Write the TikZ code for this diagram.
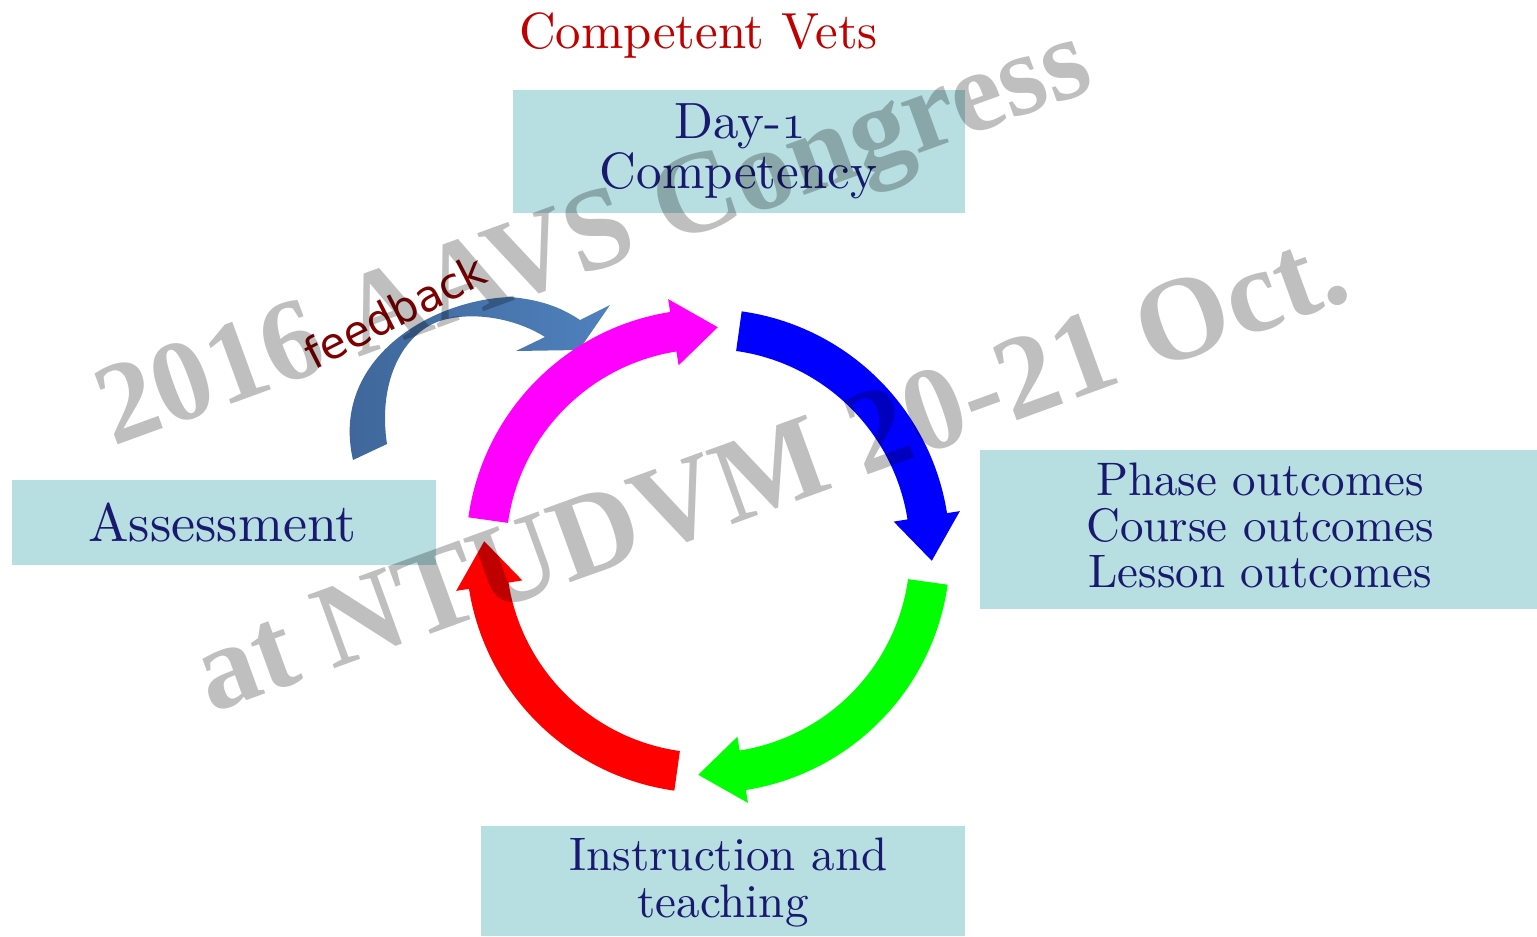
\documentclass[tikz,border=0pt]{standalone}
\usepackage{fontspec}
\newfontfamily\fbfont{DejaVu Sans}
\newfontfamily\wmfont{Liberation Serif}
\newfontfamily\boxfont{lmroman10-regular.otf}
\newcommand{\osone}{{\usefont{OML}{cmm}{m}{it}1}}
\definecolor{boxteal}{HTML}{B7DEE1}
\definecolor{txtnavy}{HTML}{191970}
\definecolor{titlered}{HTML}{C00000}
\definecolor{fbred}{HTML}{7F0000}
\definecolor{fbdark}{HTML}{3E6598}
\definecolor{fblight}{HTML}{4F81BD}
\definecolor{pmagenta}{RGB}{255,0,255}
\definecolor{pblue}{RGB}{0,0,255}
\definecolor{pgreen}{RGB}{0,255,0}
\definecolor{pred}{RGB}{255,0,0}
\tikzset{
  tealbox/.style={fill=boxteal, draw=none, inner sep=0pt, outer sep=0pt},
  navytext/.style={text=txtnavy, inner sep=0pt, anchor=base},
  wmtext/.style={text=black, text opacity=0.25, inner sep=0pt, anchor=base west, rotate=20},
}
\begin{document}
\begin{tikzpicture}[x=0.5pt,y=-0.5pt]
\useasboundingbox (0,0) rectangle (1537,937);
\fill[white] (0,0) rectangle (1537,937);

% boxes
\node[tealbox, minimum width=226pt, minimum height=61.5pt] (daybox) at (739,151.5) {};
\node[tealbox, minimum width=212pt, minimum height=42.5pt] (assessbox) at (224,522.5) {};
\node[tealbox, minimum width=278.5pt, minimum height=79.5pt] (phasebox) at (1258.5,529.5) {};
\node[tealbox, minimum width=242pt, minimum height=55pt] (instrbox) at (723,881) {};

% title
\node[text=titlered, inner sep=0pt, anchor=base, font=\boxfont\fontsize{25.4}{25.4}\selectfont] (title) at (698.5,48) {Competent Vets};

% box texts
\begin{scope}[font=\boxfont\fontsize{25.5}{25.5}\selectfont]
\node[navytext] (dayA) at (740,138) {Day-\osone};
\node[navytext] (dayB) at (738.5,188) {Competency};
\end{scope}
\node[navytext, font=\boxfont\fontsize{27}{27}\selectfont] (assessT) at (222.5,541) {Assessment};
\begin{scope}[font=\boxfont\fontsize{23.5}{23.5}\selectfont]
\node[navytext] (phaseA) at (1260,495) {Phase outcomes};
\node[navytext] (phaseB) at (1260,541) {Course outcomes};
\node[navytext] (phaseC) at (1260,587) {Lesson outcomes};
\node[navytext] (instrA) at (728.5,870) {Instruction and};
\node[navytext] (instrB) at (723,917) {teaching};
\end{scope}

% feedback arrow
\shade[left color=fbdark, right color=fblight]
  (353,460) .. controls (330,360) and (430,300) .. (510,297)
  .. controls (545,300) and (565,310) .. (580,320)
  -- (610,305) -- (579,350) -- (516,351) -- (545,337)
  .. controls (515,318) and (470,310) .. (437,322)
  .. controls (400,337) and (378,385) .. (387,444) -- cycle;
\node[text=fbred, inner sep=0pt, anchor=base, rotate=27, font=\fbfont\fontsize{21.5}{21.5}\selectfont] (fb) at (402,326) {feedback};

% cycle arrows
\begin{scope}[shift={(708,551)}]
\foreach \col/\ang in {pblue/82, pgreen/-8, pred/-98, pmagenta/172}{
  \pgfmathsetmacro\aS{-\ang}
  \pgfmathsetmacro\aB{-\ang+73}
  \pgfmathsetmacro\aT{-\ang+84.5}
  \fill[\col] (\aS:242) arc[start angle=\aS, end angle=\aB, radius=242]
    -- (\aB:255) -- (\aT:224) -- (\aB:188) -- (\aB:202)
    arc[start angle=\aB, end angle=\aS, radius=202] -- cycle;
}
\end{scope}

% watermark
\node[wmtext, font=\wmfont\bfseries\fontsize{58}{58}\selectfont] (wm1) at (113,447) {2016 AAVS Congress};
\node[wmtext, font=\wmfont\bfseries\fontsize{59.5}{59.5}\selectfont] (wm2) at (211,714) {at NTUDVM 20-21 Oct.};
\end{tikzpicture}
\end{document}
